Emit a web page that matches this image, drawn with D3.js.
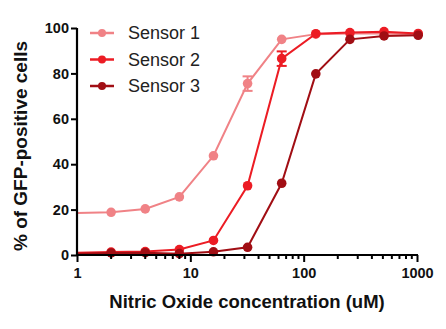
<!DOCTYPE html>
<html>
<head>
<meta charset="utf-8">
<script src="https://cdn.jsdelivr.net/npm/d3@7"></script>
<style>
  html, body { margin: 0; padding: 0; background: #fff; }
  svg { display: block; font-family: "Liberation Sans", Arial, sans-serif; }
</style>
</head>
<body>
<svg id="chart" width="446" height="329"></svg>
<script>
// Nitric oxide concentrations (uM); the lowest point sits on the y axis
const concentrations = [1, 2, 4, 8, 16, 32, 64, 128, 256, 512, 1024];
const seriesNames = ["Sensor 1", "Sensor 2", "Sensor 3"];
const seriesColors = ["#f08286", "#ec1c24", "#a10e14"];
// % GFP-positive cells per sensor
const sensor1 = [18.5, 18.8, 20.3, 25.6, 43.7, 75.5, 95.0, 97.3, 97.6, 97.6, 97.2];
const sensor2 = [1.0, 1.3, 1.5, 2.4, 6.4, 30.5, 86.5, 97.5, 98.0, 98.4, 97.6];
const sensor3 = [0.5, 0.9, 1.0, 0.6, 1.4, 3.4, 31.6, 79.8, 95.0, 96.5, 96.8];
// Standard error where visible (other points have bars hidden by markers)
const sensor1Err = [0, 0, 0, 0, 0, 3.2, 0, 0, 0, 0, 0];
const sensor2Err = [0, 0, 0, 0, 0, 0, 3.2, 0, 0, 0, 0];
const sensor3Err = [0, 0, 0, 0, 0, 0, 0, 0, 0, 0, 0];
const yTicks = [0, 20, 40, 60, 80, 100];
const xTicks = [1, 10, 100, 1000];

const seriesValues = [sensor1, sensor2, sensor3];
const seriesErrors = [sensor1Err, sensor2Err, sensor3Err];

const svg = d3.select("#chart");
const margin = { left: 77, right: 29, top: 28, bottom: 74 };
const W = 446, H = 329;

const x = d3.scaleLog().domain([1, 1000]).range([margin.left, W - margin.right]);
const y = d3.scaleLinear().domain([0, 100]).range([H - margin.bottom, margin.top]);

// Series: lines, error bars, markers
seriesValues.forEach((vals, si) => {
  const color = seriesColors[si];
  const pts = concentrations.map((c, i) => ({ c, v: vals[i], e: seriesErrors[si][i] }));
  const g = svg.append("g");
  g.append("path")
    .datum(pts)
    .attr("fill", "none")
    .attr("stroke", color)
    .attr("stroke-width", 2)
    .attr("d", d3.line().x(d => x(d.c)).y(d => y(d.v)));
  const withErr = pts.filter(d => d.e > 0);
  withErr.forEach(d => {
    const cx = x(d.c);
    g.append("line").attr("x1", cx).attr("x2", cx)
      .attr("y1", y(d.v - d.e)).attr("y2", y(d.v + d.e))
      .attr("stroke", color).attr("stroke-width", 2);
    [d.v - d.e, d.v + d.e].forEach(v => {
      g.append("line").attr("x1", cx - 5).attr("x2", cx + 5)
        .attr("y1", y(v)).attr("y2", y(v))
        .attr("stroke", color).attr("stroke-width", 2);
    });
  });
  g.selectAll("circle")
    .data(pts.filter(d => d.c > 1))
    .join("circle")
    .attr("cx", d => x(d.c))
    .attr("cy", d => y(d.v))
    .attr("r", 4.8)
    .attr("fill", color);
});

// Y axis
const yAxis = svg.append("g")
  .attr("transform", `translate(${margin.left},0)`)
  .call(d3.axisLeft(y).tickValues(yTicks).tickSize(6).tickPadding(2));
yAxis.select(".domain").attr("stroke", "#000").attr("stroke-width", 2.2)
  .attr("d", `M0,${y(0)}V${y(100)}`);
yAxis.selectAll(".tick line").attr("stroke", "#000").attr("stroke-width", 2);
yAxis.selectAll(".tick text")
  .attr("font-size", 14.5).attr("font-weight", "bold").attr("fill", "#111")
  .attr("font-family", "Liberation Sans, Arial, sans-serif");

// X axis: major decades plus minor ticks
const minor = [];
for (let d = 1; d < 1000; d *= 10) for (let k = 2; k <= 9; k++) minor.push(d * k);
const xAxisG = svg.append("g").attr("transform", `translate(0,${y(0)})`);
xAxisG.selectAll("line.minor").data(minor).join("line")
  .attr("class", "minor")
  .attr("x1", d => x(d)).attr("x2", d => x(d))
  .attr("y1", 0).attr("y2", 4)
  .attr("stroke", "#000").attr("stroke-width", 2);
xAxisG.call(g => g.append("g")
  .call(d3.axisBottom(x).tickValues(xTicks).tickFormat(d3.format("d")).tickSize(7).tickPadding(6)));
xAxisG.select(".domain").attr("stroke", "#000").attr("stroke-width", 2.2)
  .attr("d", `M${x(1) - 1},0H${x(1000) + 1}`);
xAxisG.selectAll(".tick line").attr("stroke", "#000").attr("stroke-width", 2);
xAxisG.selectAll(".tick text")
  .attr("font-size", 14.5).attr("font-weight", "bold").attr("fill", "#111")
  .attr("font-family", "Liberation Sans, Arial, sans-serif");

// Axis titles
svg.append("text")
  .attr("x", (x(1) + x(1000)) / 2).attr("y", 308)
  .attr("text-anchor", "middle")
  .attr("font-size", 18.5).attr("font-weight", "bold").attr("fill", "#111")
  .text("Nitric Oxide concentration (uM)");
svg.append("text")
  .attr("transform", "translate(27,146) rotate(-90)")
  .attr("text-anchor", "middle")
  .attr("font-size", 19).attr("font-weight", "bold").attr("fill", "#111")
  .text("% of GFP-positive cells");

// Legend
const legend = svg.append("g");
seriesNames.forEach((name, i) => {
  const ly = 33 + i * 26.5;
  legend.append("line").attr("x1", 90).attr("x2", 114).attr("y1", ly).attr("y2", ly)
    .attr("stroke", seriesColors[i]).attr("stroke-width", 2.5);
  legend.append("circle").attr("cx", 102).attr("cy", ly).attr("r", 4)
    .attr("fill", seriesColors[i]);
  legend.append("text").attr("x", 128).attr("y", ly).attr("dy", "0.36em")
    .attr("font-size", 18).attr("fill", "#222").text(name);
});
</script>
</body>
</html>
